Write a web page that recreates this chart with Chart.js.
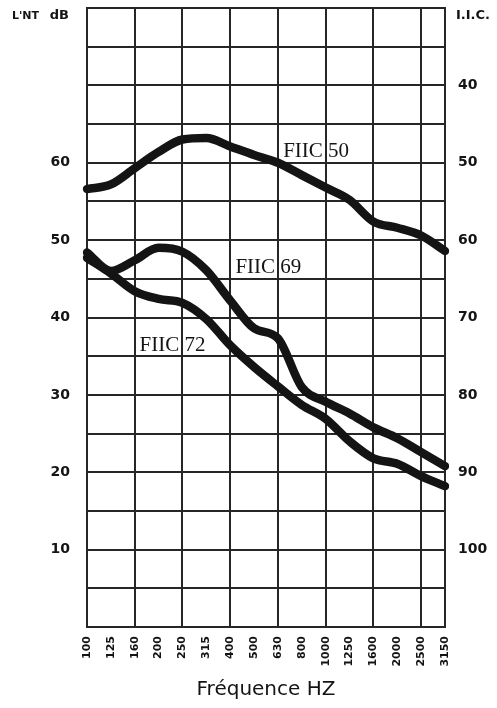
<!DOCTYPE html>
<html>
<head>
<meta charset="utf-8">
<title>FIIC</title>
<script src="https://cdn.jsdelivr.net/npm/chart.js@4"></script>
<style>
    body{ margin:0; background:#ffffff; }
    #wrap{ width:497px; height:708px; position:relative; }
</style>
</head>
<body>
<div id="wrap"><canvas id="fiicChart"></canvas></div>
<script>

/* ==========================================
   DATA
========================================== */

const FREQUENCIES = [
    "100","125","160","200","250","315","400","500",
    "630","800","1000","1250","1600","2000","2500","3150"
];

// L'nT in dB
const FIIC_50 = [56.6, 57.2, 59.3, 61.4, 63.0, 63.2, 62.1, 61.0, 60.0, 58.4, 56.8, 55.2, 52.4, 51.6, 50.6, 48.6];
const FIIC_69 = [48.4, 46.0, 47.4, 49.0, 48.5, 46.1, 42.2, 38.6, 37.3, 31.0, 29.1, 27.6, 25.8, 24.4, 22.6, 20.8];
const FIIC_72 = [47.7, 45.7, 43.4, 42.4, 41.9, 39.8, 36.4, 33.6, 31.1, 28.7, 26.9, 24.0, 21.8, 21.1, 19.5, 18.2];

const SERIES_NAMES = ["FIIC 50", "FIIC 69", "FIIC 72"];

const DB_TICKS = [10, 20, 30, 40, 50, 60];
const IIC_TICKS = [40, 50, 60, 70, 80, 90, 100];


/* ==========================================
   LOOK
========================================== */

const INK = "#141414";
const GRID = "#262626";

// where the curve names sit, in (frequency index, dB)
const TAG_AT = [[9.6, 61.5], [7.6, 46.5], [3.58, 36.4]];


/* ==========================================
   TEXT PLUGIN
========================================== */

const textPlugin = {

    id: "fiicText",

    afterDatasetsDraw(chart){

        const ctx = chart.ctx;
        const x = chart.scales.x;
        const y = chart.scales.y;
        const area = chart.chartArea;

        ctx.save();
        ctx.fillStyle = INK;
        ctx.textBaseline = "middle";

        // curve names
        ctx.font = "21px 'Liberation Serif'";
        ctx.textAlign = "center";
        SERIES_NAMES.forEach((name, i) => {
            ctx.fillText(
                name,
                x.getPixelForValue(TAG_AT[i][0]),
                y.getPixelForValue(TAG_AT[i][1])
            );
        });

        // corner titles
        ctx.font = "bold 13px 'DejaVu Sans'";
        ctx.textAlign = "left";
        ctx.fillText("I.I.C.", area.right + 11, area.top + 8);

        ctx.textAlign = "right";
        ctx.fillText("dB", area.left - 18, area.top + 8);
        ctx.font = "bold 11px 'DejaVu Sans'";
        ctx.fillText("L'NT", area.left - 48, area.top + 8);

        ctx.restore();
    }
};


/* ==========================================
   CHART
========================================== */

function lineSet(label, values){
    return {
        label,
        data: values,
        borderColor: INK,
        borderWidth: 8.5,
        borderCapStyle: "round",
        borderJoinStyle: "round",
        cubicInterpolationMode: "monotone",
        pointRadius: 0,
        fill: false
    };
}

// fixed side widths, no extra room for half labels
function sideFit(width){
    return s => {
        s.width = width;
        s.paddingTop = 0;
        s.paddingBottom = 0;
    };
}

const ctx = document.getElementById("fiicChart").getContext("2d");

new Chart(ctx, {

    type: "line",

    data: {
        labels: FREQUENCIES,
        datasets: [
            lineSet(SERIES_NAMES[0], FIIC_50),
            lineSet(SERIES_NAMES[1], FIIC_69),
            lineSet(SERIES_NAMES[2], FIIC_72)
        ]
    },

    options: {

        responsive: true,
        maintainAspectRatio: false,
        animation: false,

        layout: {
            padding: { top: 8, left: 0, right: 0, bottom: 0 }
        },

        plugins: {
            legend: { display: false },
            tooltip: { enabled: false }
        },

        scales: {

            x: {
                type: "category",
                offset: false,
                grid: {
                    drawTicks: false,
                    lineWidth: 2,
                    color: c => (c.index % 2 === 0 || c.index === FREQUENCIES.length - 1) ? GRID : "rgba(0,0,0,0)"
                },
                border: { color: GRID, width: 2 },
                ticks: {
                    autoSkip: false,
                    minRotation: 90,
                    maxRotation: 90,
                    padding: 9,
                    color: INK,
                    font: { family: "DejaVu Sans", size: 11, weight: "bold" }
                },
                title: {
                    display: true,
                    text: "Fréquence HZ",
                    color: INK,
                    padding: { top: 4, bottom: 6 },
                    font: { family: "DejaVu Sans", size: 20 }
                },
                afterFit: s => { s.height = 81; }
            },

            y: {
                position: "left",
                min: 0,
                max: 80,
                grid: {
                    drawTicks: false,
                    lineWidth: 2,
                    color: GRID
                },
                border: { color: GRID, width: 2 },
                ticks: {
                    stepSize: 5,
                    padding: 17,
                    color: INK,
                    font: { family: "DejaVu Sans", size: 14, weight: "bold" },
                    callback: v => DB_TICKS.includes(v) ? String(v) : ""
                },
                afterFit: sideFit(87)
            },

            y2: {
                position: "right",
                reverse: true,
                min: 30,
                max: 110,
                grid: { display: false, drawTicks: false },
                border: { color: GRID, width: 2 },
                ticks: {
                    stepSize: 5,
                    padding: 13,
                    color: INK,
                    font: { family: "DejaVu Sans", size: 14, weight: "bold" },
                    callback: v => IIC_TICKS.includes(v) ? String(v) : ""
                },
                afterFit: sideFit(52)
            }
        }
    },

    plugins: [textPlugin]

});

</script>
</body>
</html>
